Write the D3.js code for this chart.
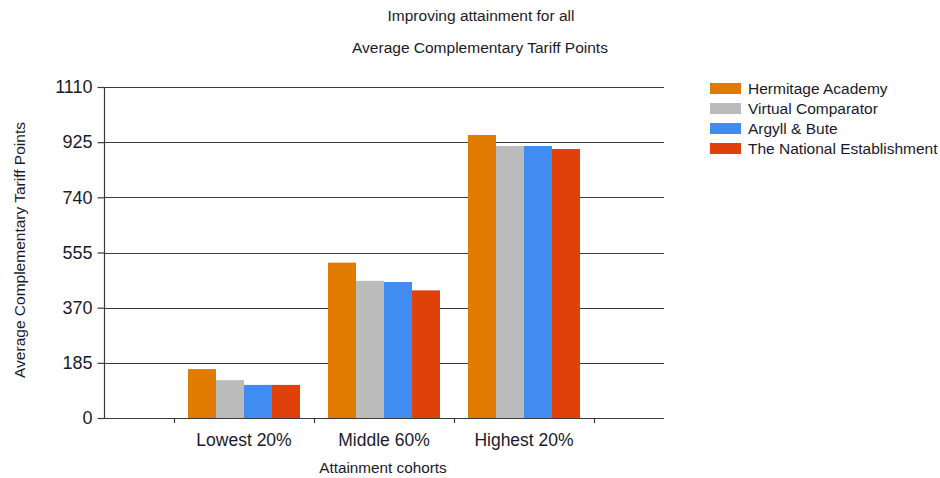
<!DOCTYPE html>
<html><head><meta charset="utf-8">
<script src="https://cdn.jsdelivr.net/npm/d3@7"></script>
<style>body{margin:0;background:#fff}svg{display:block}text{font-family:"Liberation Sans",Arial,sans-serif;fill:#1a1a2e}</style>
</head><body><svg id="c" width="940" height="478"></svg>
<script>
const categories = ["Lowest 20%", "Middle 60%", "Highest 20%"];
const seriesNames = ["Hermitage Academy", "Virtual Comparator", "Argyll & Bute", "The National Establishment"];
const hermitage = [164, 521, 949];
const virtualComp = [127, 460, 912];
const argyll = [111, 456, 912];
const national = [111, 428, 902];
const yTicks = [0, 185, 370, 555, 740, 925, 1110];
const colors = ["#E07B00", "#BBBBBB", "#418CF0", "#E0400A"];
const seriesValues = [hermitage, virtualComp, argyll, national];

(function () {
const svg = d3.select("#c");
const pLeft = 104, pRight = 664, pTop = 87, pBottom = 418;
const y = d3.scaleLinear().domain([0, 1110]).range([pBottom, pTop]);
const x0 = d3.scaleBand().domain(categories).range([174, 594]).padding(0);
const x1 = d3.scaleBand().domain(seriesNames).range([14, 126]).padding(0);

// gridlines
svg.append("g").selectAll("line").data(yTicks).join("line")
  .attr("x1", pLeft).attr("x2", pRight)
  .attr("y1", d => Math.round(y(d)) + 0.5).attr("y2", d => Math.round(y(d)) + 0.5)
  .attr("stroke", "#3a3a3a").attr("stroke-width", 1.2);

// bars
const g = svg.append("g");
categories.forEach((c, ci) => {
  seriesNames.forEach((s, si) => {
    const v = seriesValues[si][ci];
    g.append("rect")
      .attr("x", x0(c) + x1(s)).attr("width", x1.bandwidth())
      .attr("y", y(v)).attr("height", pBottom - y(v))
      .attr("fill", colors[si]);
  });
});

// y axis
const yAxis = d3.axisLeft(y).tickValues(yTicks).tickFormat(d3.format("d")).tickSize(7).tickPadding(5);
const ya = svg.append("g").attr("transform", `translate(${pLeft + 0.5},0)`).call(yAxis);
ya.select(".domain").attr("stroke", "#3a3a3a").attr("stroke-width", 1.2).attr("d", `M0,${pTop}V${pBottom}`);
ya.selectAll(".tick line").attr("stroke", "#3a3a3a").attr("stroke-width", 1.2);
ya.selectAll(".tick text").style("font-size", "18px").style("font-family", "'Liberation Sans',Arial,sans-serif").attr("fill", "#1a1a2e");

// x axis
svg.append("line").attr("x1", pLeft).attr("x2", pRight)
  .attr("y1", pBottom + 0.5).attr("y2", pBottom + 0.5)
  .attr("stroke", "#3a3a3a").attr("stroke-width", 1.2);
const bounds = categories.map(c => x0(c)).concat([x0(categories[categories.length - 1]) + x0.bandwidth()]);
svg.append("g").selectAll("line").data(bounds).join("line")
  .attr("x1", d => Math.round(d) + 0.5).attr("x2", d => Math.round(d) + 0.5)
  .attr("y1", pBottom).attr("y2", pBottom + 5)
  .attr("stroke", "#3a3a3a").attr("stroke-width", 1.2);
svg.append("g").selectAll("text").data(categories).join("text")
  .attr("x", d => x0(d) + x0.bandwidth() / 2).attr("y", 446)
  .attr("text-anchor", "middle").style("font-size", "17.5px").text(d => d);

// titles
svg.append("text").attr("x", 481).attr("y", 21).attr("text-anchor", "middle").style("font-size", "15.5px").text("Improving attainment for all");
svg.append("text").attr("x", 480).attr("y", 53).attr("text-anchor", "middle").style("font-size", "15.5px").text("Average Complementary Tariff Points");
svg.append("text").attr("x", 383).attr("y", 473).attr("text-anchor", "middle").style("font-size", "15.3px").text("Attainment cohorts");
svg.append("text").attr("transform", "translate(25,250) rotate(-90)").attr("text-anchor", "middle").style("font-size", "15.5px").text("Average Complementary Tariff Points");

// legend
const lg = svg.append("g");
seriesNames.forEach((s, i) => {
  const yy = 83 + i * 20;
  lg.append("rect").attr("x", 710).attr("y", yy).attr("width", 31).attr("height", 11).attr("fill", colors[i]);
  lg.append("text").attr("x", 748).attr("y", yy + 11).style("font-size", "15.5px").text(s);
});
})();
</script></body></html>
